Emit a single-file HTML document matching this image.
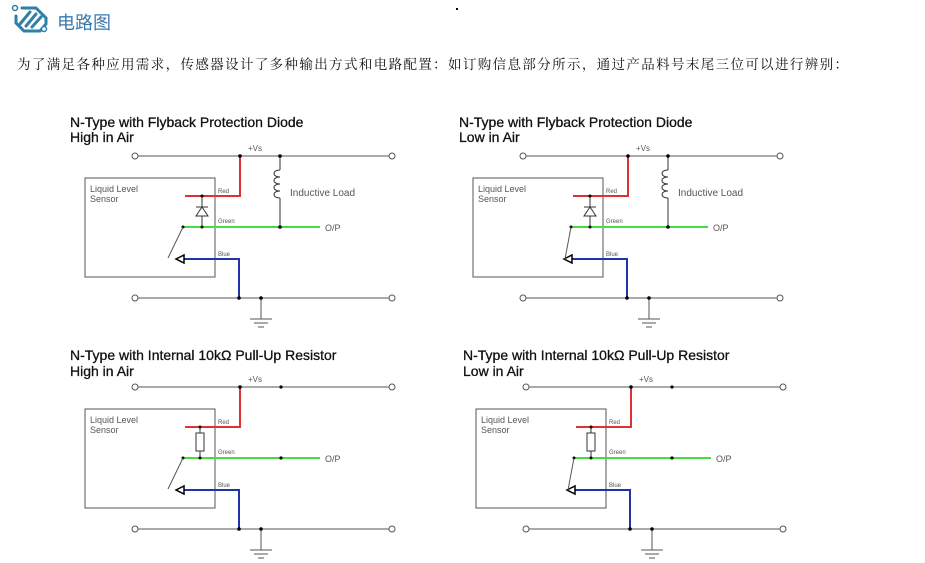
<!DOCTYPE html>
<html><head><meta charset="utf-8"><style>
body{margin:0;background:#fff;width:925px;height:563px;overflow:hidden;font-family:"Liberation Sans","Noto Sans CJK SC",sans-serif}
</style></head><body>
<svg width="925" height="563" xmlns="http://www.w3.org/2000/svg" style="position:absolute;left:0;top:0">
<defs>
<g id="base" fill="none" stroke="#555" stroke-width="1">
  <line x1="138" y1="156" x2="389" y2="156"/>
  <circle cx="135" cy="156" r="3" fill="#fff"/><circle cx="392" cy="156" r="3" fill="#fff"/>
  <line x1="138" y1="298" x2="389" y2="298"/>
  <circle cx="135" cy="298" r="3" fill="#fff"/><circle cx="392" cy="298" r="3" fill="#fff"/>
  <rect x="85" y="178" width="130" height="99"/>
  <line x1="261" y1="298" x2="261" y2="319"/>
  <line x1="250" y1="319" x2="272" y2="319"/><line x1="254" y1="323" x2="268" y2="323"/><line x1="258" y1="327" x2="264" y2="327"/>
  <polyline points="185,196 240,196 240,156" stroke="#d33" stroke-width="2"/>
  <line x1="183" y1="227" x2="320" y2="227" stroke="#4d4" stroke-width="2"/>
  <polyline points="182,259 239,259 239,298" stroke="#2233aa" stroke-width="2"/>
  <polygon points="176,259 184,255 184,263" fill="#fff" stroke="#000" stroke-width="1.5"/>
  <g fill="#000" stroke="none"><circle cx="240" cy="156" r="1.8"/><circle cx="239" cy="298" r="1.8"/><circle cx="261" cy="298" r="1.8"/><circle cx="183" cy="227" r="1.5"/></g>
  <g font-family="Liberation Sans, sans-serif" fill="#555" stroke="none">
   <text x="90" y="192" font-size="9">Liquid Level</text><text x="90" y="202" font-size="9">Sensor</text>
   <text x="218" y="193" font-size="6">Red</text><text x="218" y="223" font-size="6">Green</text><text x="218" y="256" font-size="6">Blue</text>
   <text x="248" y="151" font-size="8">+Vs</text><text x="325" y="231" font-size="9">O/P</text>
  </g>
</g>
<g id="diode" fill="none" stroke="#333" stroke-width="1">
  <line x1="202" y1="196" x2="202" y2="227"/>
  <polygon points="196,216 208,216 202,207" fill="#fff"/><line x1="196" y1="207" x2="208" y2="207"/>
  <line x1="280" y1="156" x2="280" y2="170"/><line x1="280" y1="198" x2="280" y2="227"/>
  <path d="M280,170 c-8,0 -8,7 0,7 c-8,0 -8,7 0,7 c-8,0 -8,7 0,7 c-8,0 -8,7 0,7"/>
  <g fill="#000" stroke="none"><circle cx="280" cy="156" r="1.8"/><circle cx="280" cy="227" r="1.8"/><circle cx="202" cy="196" r="1.5"/><circle cx="202" cy="227" r="1.5"/></g>
  <text x="290" y="196" font-size="10" fill="#555" stroke="none" font-family="Liberation Sans, sans-serif">Inductive Load</text>
</g>
<g id="res" fill="none" stroke="#333" stroke-width="1">
  <line x1="200" y1="196" x2="200" y2="227"/>
  <rect x="196" y="202" width="8" height="18" fill="#fff"/>
  <g fill="#000" stroke="none"><circle cx="281" cy="156" r="1.6"/><circle cx="281" cy="227" r="1.6"/><circle cx="200" cy="196" r="1.5"/><circle cx="200" cy="227" r="1.5"/></g>
</g>
</defs>
<g fill="none" stroke="#2f7fa8" stroke-linecap="round">
  <path d="M22,8 L36,8 L46,18 L46,24 L40,31 L24,31 L16,23 L16,16" stroke-width="3"/>
  <line x1="20" y1="24" x2="30" y2="12" stroke-width="3"/><line x1="26" y1="26" x2="36" y2="14" stroke-width="3"/><line x1="32" y1="27" x2="41" y2="17" stroke-width="3"/>
  <circle cx="15" cy="8" r="2.5" stroke-width="1.5"/><circle cx="44" cy="29" r="2.5" stroke-width="1.5" fill="#fff"/>
</g>
<text x="57" y="29" font-size="18" fill="#3a78b0" font-family="Liberation Sans, Noto Sans CJK SC, sans-serif">电路图</text>
<rect x="456" y="8" width="2" height="2" fill="#000"/>
<text x="17" y="69" font-size="13.5" fill="#111" textLength="831" lengthAdjust="spacing" font-family="Liberation Serif, Noto Serif CJK SC, serif">为了满足各种应用需求，传感器设计了多种输出方式和电路配置：如订购信息部分所示，通过产品料号末尾三位可以进行辨别：</text>
<g font-family="Liberation Sans, sans-serif" font-size="14" fill="#111" stroke="#111" stroke-width="0.3">
<text x="70" y="127">N-Type with Flyback Protection Diode</text><text x="70" y="142">High in Air</text>
<text x="459" y="127">N-Type with Flyback Protection Diode</text><text x="459" y="142">Low in Air</text>
<text x="70" y="360">N-Type with Internal 10kΩ Pull-Up Resistor</text><text x="70" y="376">High in Air</text>
<text x="463" y="360">N-Type with Internal 10kΩ Pull-Up Resistor</text><text x="463" y="376">Low in Air</text>
</g>
<g><use href="#base"/><use href="#diode"/><line x1="183" y1="227" x2="168" y2="258" stroke="#555"/></g>
<g transform="translate(388,0)"><use href="#base"/><use href="#diode"/><line x1="183" y1="227" x2="177" y2="259" stroke="#555"/></g>
<g transform="translate(0,231)"><use href="#base"/><use href="#res"/><line x1="183" y1="227" x2="168" y2="258" stroke="#555"/></g>
<g transform="translate(391,231)"><use href="#base"/><use href="#res"/><line x1="183" y1="227" x2="177" y2="259" stroke="#555"/></g>
</svg>
</body></html>
